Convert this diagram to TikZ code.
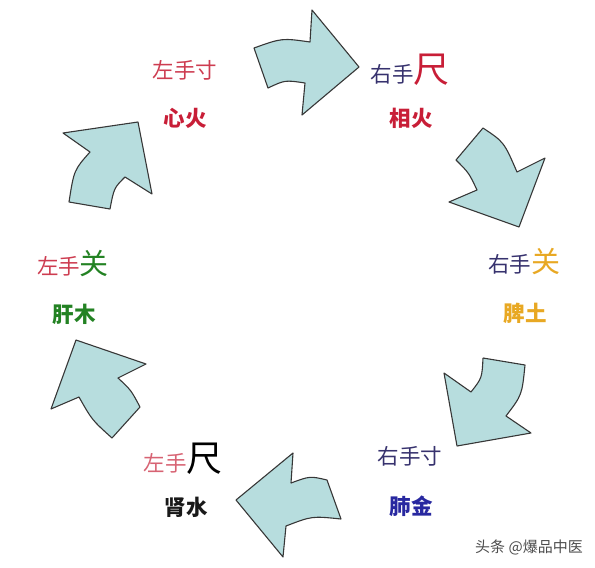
\documentclass[tikz,border=0pt]{standalone}
\usepackage{fontspec}
\newfontfamily\cjk{Noto Sans CJK SC}
\newcommand{\bigcharfont}{\fontsize{36}{40}\selectfont}
\newcommand{\midcharfont}{\fontsize{29}{33}\selectfont}
\definecolor{arrowFill}{RGB}{183,221,222}
\definecolor{arrowLine}{RGB}{55,55,55}
\definecolor{leftRed}{RGB}{205,60,80}
\definecolor{fireRed}{RGB}{200,30,55}
\definecolor{rightNavy}{RGB}{55,50,110}
\definecolor{earthGold}{RGB}{232,168,35}
\definecolor{metalBlue}{RGB}{40,40,160}
\definecolor{woodGreen}{RGB}{35,130,35}
\usetikzlibrary{positioning}

\begin{document}
\begin{tikzpicture}[x=1pt, y=-1pt,
        hand/.style={font=\cjk\fontsize{21.5}{25}\selectfont, inner sep=0pt},
        organ/.style={font=\cjk\bfseries\fontsize{21.5}{25}\selectfont, inner sep=0pt},
        pulse/.style={draw=arrowLine, fill=arrowFill, line width=1.1pt, line join=round}
      ]
        \useasboundingbox (0,0) rectangle (595,568);
        % arrows, clockwise from the top
        \draw[pulse] (254,48) .. controls (282,38) .. (310,42) -- (312,10) -- (359,67)
          -- (302,115) -- (305,83) .. controls (285,80) .. (268,88) -- cycle;
        \draw[pulse] (483,128) .. controls (504,142) .. (517,172) -- (545,158) -- (519,227)
          -- (449,202) -- (477,190) .. controls (469,173) .. (456,160) -- cycle;
        \draw[pulse] (483,358) -- (525,365) .. controls (522,395) .. (506,416) -- (531,433)
          -- (457,446) -- (444,373) -- (471,392) .. controls (482,378) .. (483,358);
        \draw[pulse] (236,500) -- (293,453) -- (291,483) .. controls (310,476) .. (327,480)
          -- (341,519) .. controls (312,516) .. (286,526) -- (283,557) -- cycle;
        \draw[pulse] (76,340) -- (146,364) -- (118,378) .. controls (131,390) .. (140,407)
          -- (112,438) .. controls (92,420) .. (79,397) -- (51,409) -- cycle;
        \draw[pulse] (138,122) -- (152,194) -- (125,177) .. controls (114,188) .. (110,209)
          -- (69,202) .. controls (74,170) .. (90,152) -- (63,133) -- cycle;
        % pulse positions and organs
        \node[hand, text=leftRed] (lcun) at (185,70) {左手寸};
        \node[organ, text=fireRed] (xinhuo) at (185,118) {心火};
        \node[hand, anchor=base] (rchi) at (410,82)
          {\textcolor{rightNavy}{右手}\textcolor{fireRed}{\bigcharfont 尺}};
        \node[organ, text=fireRed] (xianghuo) at (411,118) {相火};
        \node[hand, anchor=base] (rguan) at (524,272)
          {\textcolor{rightNavy}{右手}\textcolor{earthGold}{\midcharfont 关}};
        \node[organ, text=earthGold] (pitu) at (525,313) {脾土};
        \node[hand, text=rightNavy] (rcun) at (410,456) {右手寸};
        \node[organ, text=metalBlue] (feijin) at (411,506) {肺金};
        \node[hand, anchor=base] (lchi) at (183,471)
          {\textcolor{leftRed!80}{左手}\textcolor{black}{\bigcharfont 尺}};
        \node[organ, text=black!90] (shenshui) at (186,507) {肾水};
        \node[hand, anchor=base] (lguan) at (73,274)
          {\textcolor{leftRed}{左手}\textcolor{woodGreen}{\midcharfont 关}};
        \node[organ, text=woodGreen] (ganmu) at (74,314) {肝木};
        \node[font=\cjk\fontsize{15}{18}\selectfont, text=black!70] (mark) at (529,547) {头条 @爆品中医};
      \end{tikzpicture}
\end{document}
